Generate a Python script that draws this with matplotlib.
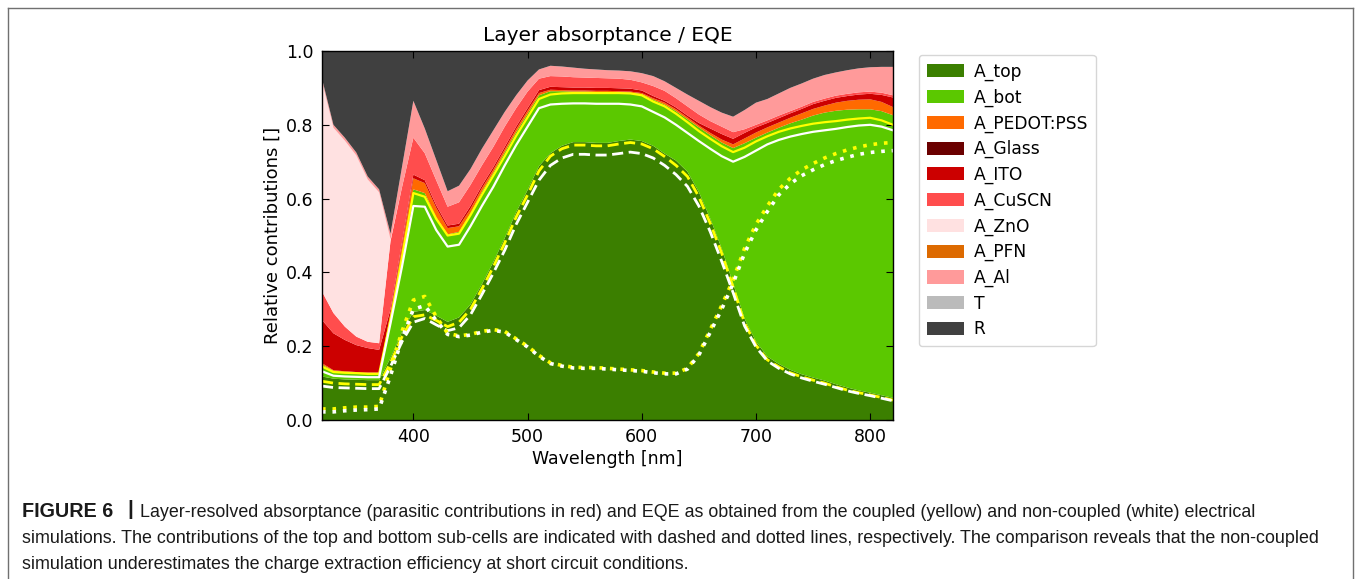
#!/usr/bin/env python3

import numpy as np
import matplotlib
matplotlib.use("Agg")
import matplotlib.pyplot as plt
from matplotlib.lines import Line2D

#-------------------------------------------------------------
# layer-resolved absorptance of the tandem stack, 320-820 nm in 10 nm steps
wavelength = np.arange(320, 821, 10)

A_top = [0.118, 0.112, 0.110, 0.109, 0.108, 0.108,
         0.168, 0.238, 0.293, 0.298, 0.283, 0.266, 0.278,
         0.313, 0.368, 0.428, 0.493, 0.563, 0.623, 0.688, 0.723,
         0.743, 0.753, 0.753, 0.751, 0.751, 0.756, 0.760, 0.756,
         0.743, 0.722, 0.703, 0.673, 0.618, 0.546, 0.465, 0.370,
         0.275, 0.213, 0.172, 0.152, 0.136, 0.124, 0.115, 0.107,
         0.097, 0.088, 0.080, 0.074, 0.067, 0.060]
A_bot = [0.032, 0.021, 0.020, 0.019, 0.019, 0.019,
         0.112, 0.212, 0.332, 0.317, 0.267, 0.237, 0.232,
         0.247, 0.250, 0.242, 0.232, 0.217, 0.207, 0.192, 0.168,
         0.148, 0.137, 0.137, 0.138, 0.138, 0.132, 0.127, 0.127,
         0.125, 0.133, 0.134, 0.142, 0.175, 0.226, 0.287, 0.367,
         0.475, 0.552, 0.607, 0.640, 0.668, 0.690, 0.710, 0.726,
         0.741, 0.753, 0.762, 0.768, 0.770, 0.766]
A_PEDOT = [0.004, 0.002, 0.002, 0.002, 0.002, 0.002,
           0.010, 0.020, 0.030, 0.027, 0.025, 0.017, 0.015,
           0.012, 0.010, 0.008, 0.008, 0.008, 0.008, 0.006, 0.004,
           0.003, 0.003, 0.003, 0.003, 0.003, 0.003, 0.003, 0.003,
           0.004, 0.005, 0.005, 0.005, 0.005, 0.006, 0.008, 0.010,
           0.013, 0.014, 0.014, 0.014, 0.015, 0.017, 0.018, 0.019,
           0.022, 0.024, 0.026, 0.027, 0.025, 0.022]
A_Glass = [0.0] * 51
A_ITO = [0.117, 0.100, 0.085, 0.073, 0.066, 0.061,
         0.010, 0.010, 0.010, 0.008, 0.007, 0.007, 0.007,
         0.008, 0.007, 0.007, 0.007, 0.007, 0.007, 0.008, 0.008,
         0.008, 0.008, 0.008, 0.008, 0.008, 0.008, 0.008, 0.007,
         0.006, 0.005, 0.005, 0.005, 0.007, 0.012, 0.015, 0.015,
         0.015, 0.014, 0.012, 0.012, 0.012, 0.012, 0.013, 0.013,
         0.013, 0.013, 0.014, 0.015, 0.019, 0.026]
A_CuSCN = [0.077, 0.055, 0.036, 0.023, 0.017, 0.018,
           0.185, 0.150, 0.100, 0.073, 0.068, 0.051, 0.058,
           0.057, 0.055, 0.055, 0.055, 0.050, 0.045, 0.031, 0.029,
           0.029, 0.028, 0.027, 0.027, 0.026, 0.026, 0.024, 0.022,
           0.027, 0.027, 0.025, 0.025, 0.023, 0.020, 0.020, 0.018,
           0.010, 0.007, 0.007, 0.007, 0.006, 0.006, 0.006, 0.006,
           0.006, 0.006, 0.006, 0.006, 0.006, 0.006]
A_ZnO = [0.569, 0.502, 0.504, 0.491, 0.440, 0.409, 0.005] + [0.0] * 44
A_PFN = [0.0] * 51
A_Al = [0.008, 0.008, 0.008, 0.008, 0.008, 0.008,
        0.015, 0.055, 0.100, 0.067, 0.055, 0.042, 0.045,
        0.043, 0.045, 0.045, 0.040, 0.035, 0.030, 0.025, 0.028,
        0.027, 0.026, 0.024, 0.023, 0.022, 0.022, 0.023, 0.025,
        0.027, 0.026, 0.028, 0.032, 0.037, 0.038, 0.038, 0.042,
        0.052, 0.060, 0.058, 0.060, 0.063, 0.063, 0.063, 0.064,
        0.063, 0.064, 0.065, 0.066, 0.070, 0.077]
T = [0.0] * 51
R = [0.075, 0.200, 0.235, 0.275, 0.340, 0.375,
     0.495, 0.315, 0.135, 0.210, 0.295, 0.380, 0.365,
     0.320, 0.265, 0.215, 0.165, 0.120, 0.080, 0.050, 0.040,
     0.042, 0.045, 0.048, 0.050, 0.052, 0.053, 0.055, 0.060,
     0.068, 0.082, 0.100, 0.118, 0.135, 0.152, 0.167, 0.178,
     0.160, 0.140, 0.130, 0.115, 0.100, 0.088, 0.075, 0.065,
     0.058, 0.052, 0.047, 0.044, 0.043, 0.043]

# EQE from the coupled and the non-coupled electrical simulation
eqe_coupled = [0.145, 0.130, 0.128, 0.127, 0.125, 0.125,
               0.272, 0.440, 0.615, 0.605, 0.545, 0.500, 0.505,
               0.555, 0.610, 0.662, 0.715, 0.770, 0.820, 0.870, 0.882,
               0.885, 0.886, 0.886, 0.886, 0.886, 0.886, 0.885, 0.880,
               0.863, 0.850, 0.830, 0.807, 0.783, 0.762, 0.742, 0.726,
               0.738, 0.755, 0.769, 0.781, 0.790, 0.797, 0.803, 0.807,
               0.810, 0.814, 0.817, 0.819, 0.812, 0.800]
eqe_uncoupled = [0.132, 0.120, 0.118, 0.117, 0.116, 0.116,
                 0.262, 0.415, 0.580, 0.578, 0.515, 0.470, 0.475,
                 0.525, 0.580, 0.632, 0.690, 0.745, 0.795, 0.845, 0.855,
                 0.857, 0.858, 0.858, 0.857, 0.857, 0.857, 0.855, 0.850,
                 0.835, 0.820, 0.800, 0.778, 0.756, 0.735, 0.715, 0.700,
                 0.713, 0.730, 0.747, 0.759, 0.768, 0.775, 0.781, 0.785,
                 0.789, 0.794, 0.798, 0.800, 0.795, 0.785]
top_coupled = [0.105, 0.100, 0.098, 0.097, 0.096, 0.096,
               0.155, 0.225, 0.280, 0.285, 0.270, 0.253, 0.265,
               0.300, 0.355, 0.415, 0.480, 0.550, 0.610, 0.675, 0.715,
               0.735, 0.745, 0.745, 0.743, 0.743, 0.748, 0.752, 0.748,
               0.735, 0.714, 0.690, 0.660, 0.605, 0.533, 0.452, 0.360,
               0.263, 0.203, 0.163, 0.144, 0.128, 0.117, 0.108, 0.100,
               0.090, 0.081, 0.074, 0.068, 0.061, 0.054]
top_uncoupled = [0.092, 0.088, 0.087, 0.086, 0.085, 0.085,
                 0.145, 0.212, 0.265, 0.275, 0.258, 0.242, 0.250,
                 0.285, 0.340, 0.398, 0.460, 0.530, 0.590, 0.650, 0.690,
                 0.710, 0.720, 0.720, 0.718, 0.718, 0.722, 0.726, 0.722,
                 0.710, 0.690, 0.665, 0.633, 0.580, 0.510, 0.430, 0.345,
                 0.255, 0.198, 0.160, 0.140, 0.125, 0.114, 0.105, 0.097,
                 0.088, 0.079, 0.072, 0.066, 0.059, 0.052]
bot_coupled = [0.030, 0.030, 0.033, 0.035, 0.035, 0.037,
               0.140, 0.240, 0.325, 0.335, 0.280, 0.235, 0.228,
               0.232, 0.240, 0.245, 0.240, 0.220, 0.200, 0.175, 0.155,
               0.148, 0.143, 0.142, 0.142, 0.140, 0.138, 0.136, 0.134,
               0.130, 0.127, 0.127, 0.140, 0.180, 0.245, 0.310, 0.380,
               0.465, 0.530, 0.580, 0.625, 0.655, 0.678, 0.695, 0.710,
               0.722, 0.732, 0.740, 0.746, 0.750, 0.752]
bot_uncoupled = [0.022, 0.022, 0.025, 0.027, 0.028, 0.030,
                 0.120, 0.220, 0.300, 0.310, 0.270, 0.232, 0.226,
                 0.230, 0.238, 0.243, 0.238, 0.218, 0.198, 0.173, 0.153,
                 0.146, 0.141, 0.140, 0.140, 0.138, 0.136, 0.134, 0.132,
                 0.128, 0.125, 0.125, 0.138, 0.176, 0.238, 0.300, 0.370,
                 0.452, 0.515, 0.565, 0.610, 0.640, 0.662, 0.678, 0.692,
                 0.703, 0.712, 0.720, 0.725, 0.728, 0.730]

layer_labels = ["A_top", "A_bot", "A_PEDOT:PSS", "A_Glass", "A_ITO",
                "A_CuSCN", "A_ZnO", "A_PFN", "A_Al", "T", "R"]
layer_colors = ["#3b7f00", "#5bc800", "#ff6a00", "#6b0000", "#cc0000",
                "#ff4d4d", "#ffe1e1", "#dd6a00", "#ff9a9a", "#bbbbbb",
                "#404040"]

caption_head = "FIGURE 6"
caption_lines = [
    "Layer-resolved absorptance (parasitic contributions in red) and EQE as "
    "obtained from the coupled (yellow) and non-coupled (white) electrical",
    "simulations. The contributions of the top and bottom sub-cells are "
    "indicated with dashed and dotted lines, respectively. The comparison "
    "reveals that the non-coupled",
    "simulation underestimates the charge extraction efficiency at short "
    "circuit conditions.",
]

W, H = 1356, 579


#-------------------------------------------------------------
def draw_chart(fig):
    """ Stacked absorptance of every layer with the EQE curves on top. """
    ax = fig.add_axes([322 / W, 1 - 420 / H, 571 / W, 369 / H])

    layers = [A_top, A_bot, A_PEDOT, A_Glass, A_ITO, A_CuSCN,
              A_ZnO, A_PFN, A_Al, T, R]
    polys = ax.stackplot(wavelength, *layers, labels=layer_labels,
                         colors=layer_colors)

    dash = (0, (4.0, 2.0))
    dot = (0, (1.0, 1.9))
    # total EQE
    ax.plot(wavelength, eqe_coupled, color="yellow", lw=1.6)
    ax.plot(wavelength, eqe_uncoupled, color="white", lw=1.6)
    # top sub-cell
    ax.plot(wavelength, top_coupled, color="yellow", lw=2.0, linestyle=dash)
    ax.plot(wavelength, top_uncoupled, color="white", lw=2.0, linestyle=dash)
    # bottom sub-cell
    ax.plot(wavelength, bot_coupled, color="yellow", lw=2.6, linestyle=dot)
    ax.plot(wavelength, bot_uncoupled, color="white", lw=2.6, linestyle=dot)

    ax.set_xlim(320, 820)
    ax.set_ylim(0, 1)
    ax.set_xticks([400, 500, 600, 700, 800])
    ax.set_yticks(np.arange(0, 1.01, 0.2))
    ax.yaxis.set_major_formatter(plt.FormatStrFormatter("%.1f"))
    ax.tick_params(direction="in", top=True, right=True, length=5,
                   labelsize=12.5, pad=6)
    for s in ax.spines.values():
        s.set_linewidth(1.0)

    ax.set_title("Layer absorptance / EQE", fontsize=14.5, pad=7)
    ax.set_xlabel("Wavelength [nm]", fontsize=12.5, labelpad=3)
    ax.set_ylabel("Relative contributions []", fontsize=13, labelpad=3)

    leg = fig.legend(polys, layer_labels, loc="upper left",
                     bbox_to_anchor=(919 / W, 1 - 55 / H),
                     fontsize=12.3, handlelength=2.2, handleheight=0.8,
                     labelspacing=0.44, handletextpad=0.55, borderpad=0.45,
                     borderaxespad=0, fancybox=True)
    leg.get_frame().set_edgecolor("#cccccc")
    leg.get_frame().set_linewidth(1.0)


#-------------------------------------------------------------
def draw_caption(fig):
    """ Caption below the chart, the figure number set in bold. """
    family = ["Liberation Sans", "DejaVu Sans"]
    baselines = [517, 543, 569]
    ink = "#1a1a1a"
    y0 = 1 - baselines[0] / H
    fig.text(22 / W, y0, caption_head, fontsize=14.2, fontweight="bold",
             family=family, va="baseline", color=ink)
    fig.text(127 / W, y0 + 2 / H, "|", fontsize=15, fontweight="bold",
             family=family, va="baseline", color=ink)
    fig.text(140 / W, y0, caption_lines[0], fontsize=12.85,
             family=family, va="baseline", color=ink)
    for line, y in zip(caption_lines[1:], baselines[1:]):
        fig.text(22 / W, 1 - y / H, line, fontsize=12.85, family=family,
                 va="baseline", color=ink)

    # frame around figure and caption, open at the bottom
    frame = dict(color="#707070", lw=1.0, transform=fig.transFigure)
    fig.add_artist(Line2D([8 / W, 8 / W], [0, 1 - 8 / H], **frame))
    fig.add_artist(Line2D([8 / W, 1353 / W], [1 - 8 / H, 1 - 8 / H], **frame))
    fig.add_artist(Line2D([1353 / W, 1353 / W], [0, 1 - 8 / H], **frame))


#-------------------------------------------------------------
def main():
    fig = plt.figure(figsize=(W / 100, H / 100), dpi=100)
    draw_chart(fig)
    draw_caption(fig)
    fig.savefig("out.png", dpi=100)
    plt.close(fig)


#-------------------------------------------------------------
if __name__ == "__main__":
    main()
